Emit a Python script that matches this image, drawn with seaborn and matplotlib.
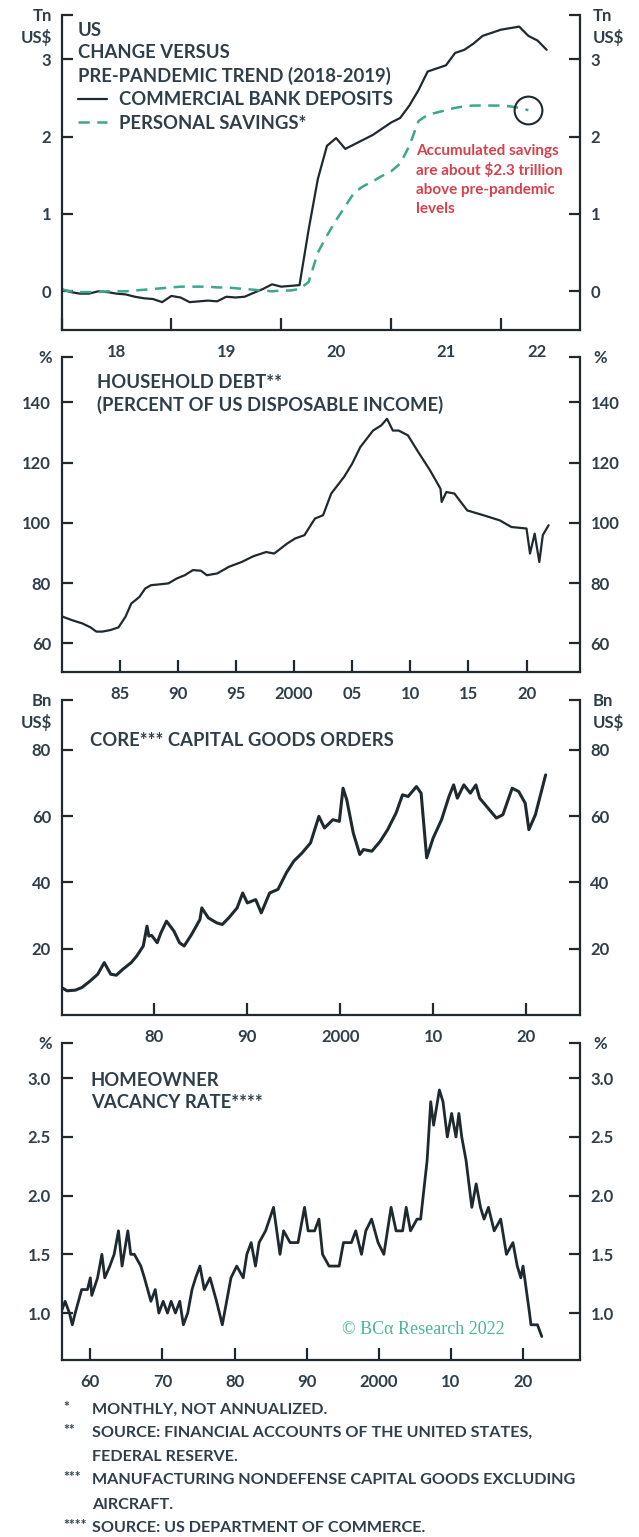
import numpy as np
import pandas as pd
import matplotlib
matplotlib.use("Agg")
import matplotlib.pyplot as plt
import seaborn as sns
from matplotlib.lines import Line2D

# ---------------- data ----------------
# Panel 1: monthly, Jan 2018 onward (Tn US$, change vs pre-pandemic trend)
deposits = [0.03, -0.01, -0.03, -0.03, 0.00, -0.01, -0.03, -0.04, -0.07, -0.09, -0.10, -0.14,
            -0.06, -0.08, -0.14, -0.13, -0.12, -0.13, -0.07, -0.08, -0.07, -0.02, 0.03, 0.09,
            0.06, 0.07, 0.08, 0.80, 1.45, 1.88, 1.98, 1.84, 1.90, 1.96, 2.02, 2.10,
            2.18, 2.24, 2.40, 2.60, 2.84, 2.88, 2.92, 3.08, 3.12, 3.20, 3.30, 3.34,
            3.38, 3.40, 3.42, 3.30, 3.24, 3.12]
savings = [0.02, 0.00, -0.01, -0.01, -0.01, 0.00, 0.00, 0.00, 0.01, 0.02, 0.03, 0.04,
           0.05, 0.06, 0.06, 0.06, 0.06, 0.05, 0.05, 0.04, 0.03, 0.02, 0.01, 0.00,
           0.01, 0.01, 0.03, 0.12, 0.50, 0.72, 0.92, 1.10, 1.28, 1.36, 1.42, 1.49,
           1.55, 1.65, 1.88, 2.20, 2.28, 2.31, 2.34, 2.37, 2.39, 2.40, 2.40, 2.40,
           2.40, 2.39, 2.37, 2.34]
p1_year_ticks = [2018, 2019, 2020, 2021, 2022]
p1_labels = ["18", "19", "20", "21", "22"]

# Panel 2: household debt (% of disposable income)
hh_x = [1980.0, 1980.9, 1981.8, 1982.5, 1983.0, 1983.5, 1984.2, 1984.9, 1985.5, 1986.0,
        1986.7, 1987.2, 1987.7, 1988.5, 1989.2, 1989.9, 1990.6, 1991.3, 1992.0, 1992.5,
        1993.4, 1994.4, 1995.5, 1996.5, 1997.6, 1998.3, 1999.4, 2000.1, 2000.9, 2001.8,
        2002.5, 2003.2, 2004.3, 2005.0, 2005.7, 2006.8, 2007.5, 2008.0, 2008.5, 2009.0,
        2009.8, 2010.6, 2011.7, 2012.6, 2012.7, 2013.1, 2013.8, 2014.9, 2016.3, 2017.7,
        2018.7, 2020.0, 2020.3, 2020.7, 2021.1, 2021.4, 2021.9]
hh_y = [69.0, 67.7, 66.6, 65.3, 63.9, 63.9, 64.4, 65.3, 68.8, 73.2,
        75.4, 78.2, 79.3, 79.6, 79.9, 81.5, 82.6, 84.3, 84.1, 82.6,
        83.2, 85.4, 87.0, 88.9, 90.3, 89.8, 93.1, 94.8, 95.9, 101.4,
        102.5, 109.7, 115.2, 119.6, 125.1, 130.6, 132.3, 134.5, 130.6, 130.6,
        129.0, 124.0, 117.4, 111.3, 106.9, 110.2, 109.7, 104.1, 102.5, 100.8,
        98.6, 98.1, 89.8, 96.4, 87.0, 95.9, 99.2]
p2_ticks = [1985, 1990, 1995, 2000, 2005, 2010, 2015, 2020]
p2_labels = ["85", "90", "95", "2000", "05", "10", "15", "20"]

# Panel 3: core capital goods orders (Bn US$)
cap_x = [1970.0, 1970.6, 1971.5, 1972.2, 1973.1, 1973.9, 1974.6, 1975.3, 1975.9, 1976.6,
         1977.5, 1978.1, 1978.8, 1979.2, 1979.4, 1979.7, 1980.3, 1980.7, 1981.3, 1982.1,
         1982.7, 1983.2, 1984.0, 1984.9, 1985.1, 1985.8, 1986.7, 1987.3, 1988.0, 1988.9,
         1989.5, 1990.0, 1990.9, 1991.5, 1992.4, 1993.3, 1994.2, 1995.0, 1995.9, 1996.8,
         1997.7, 1998.3, 1999.2, 1999.9, 2000.3, 2000.7, 2001.4, 2002.1, 2002.5, 2003.4,
         2004.3, 2005.1, 2006.0, 2006.7, 2007.3, 2008.2, 2008.7, 2009.3, 2010.0, 2010.9,
         2011.7, 2012.2, 2012.6, 2013.3, 2014.0, 2014.6, 2015.0, 2015.9, 2016.8, 2017.5,
         2018.5, 2019.2, 2019.9, 2020.3, 2021.0, 2022.1]
cap_y = [8.3, 7.3, 7.5, 8.3, 10.3, 12.3, 15.8, 12.3, 12.0, 13.8,
         15.8, 17.8, 20.8, 26.8, 23.8, 24.0, 21.8, 24.8, 28.3, 25.3,
         21.8, 20.8, 24.3, 28.8, 32.3, 29.3, 27.8, 27.3, 29.3, 32.3,
         36.8, 33.8, 34.8, 30.8, 36.8, 37.9, 42.9, 46.4, 48.9, 51.9,
         59.9, 56.4, 58.9, 58.4, 68.4, 64.9, 54.9, 48.4, 49.9, 49.4,
         52.4, 55.9, 60.9, 66.4, 65.9, 68.9, 66.9, 47.4, 53.4, 58.9,
         65.9, 69.4, 65.4, 69.4, 66.9, 69.4, 65.4, 62.4, 59.4, 60.4,
         68.4, 67.4, 63.9, 55.9, 60.4, 72.4]
p3_ticks = [1980, 1990, 2000, 2010, 2020]
p3_labels = ["80", "90", "2000", "10", "20"]

# Panel 4: homeowner vacancy rate (%)
hv_x = [1955.9, 1956.5, 1957.1, 1957.5, 1957.9, 1958.8, 1959.6, 1960.0, 1960.2, 1961.0,
        1961.6, 1962.0, 1962.7, 1963.3, 1963.9, 1964.4, 1965.2, 1965.6, 1966.1, 1967.0,
        1967.5, 1968.4, 1969.0, 1969.5, 1970.1, 1970.7, 1971.2, 1971.8, 1972.4, 1972.9,
        1973.5, 1974.1, 1974.6, 1975.2, 1975.8, 1976.6, 1977.5, 1978.3, 1978.9, 1979.5,
        1980.3, 1981.2, 1981.7, 1982.3, 1982.9, 1983.4, 1984.3, 1985.4, 1986.3, 1986.8,
        1987.7, 1988.8, 1989.7, 1990.2, 1991.1, 1991.7, 1992.2, 1993.1, 1994.5, 1995.1,
        1996.2, 1996.8, 1997.6, 1998.2, 1999.0, 1999.9, 2000.7, 2001.7, 2002.4, 2003.3,
        2003.8, 2004.4, 2005.3, 2005.8, 2006.7, 2007.2, 2007.6, 2008.4, 2008.9, 2009.5,
        2010.1, 2010.7, 2011.1, 2011.5, 2012.1, 2012.9, 2013.5, 2014.1, 2014.6, 2015.2,
        2016.0, 2016.9, 2017.7, 2018.6, 2019.2, 2019.7, 2020.0, 2020.9, 2021.1, 2022.0,
        2022.6]
hv_y = [1.0, 1.1, 1.0, 0.9, 1.0, 1.2, 1.2, 1.3, 1.15, 1.3,
        1.5, 1.3, 1.4, 1.5, 1.7, 1.4, 1.7, 1.5, 1.5, 1.4,
        1.3, 1.1, 1.2, 1.0, 1.1, 1.0, 1.1, 1.0, 1.1, 0.9,
        1.0, 1.2, 1.3, 1.4, 1.2, 1.3, 1.1, 0.9, 1.1, 1.3,
        1.4, 1.3, 1.5, 1.6, 1.4, 1.6, 1.7, 1.9, 1.5, 1.7,
        1.6, 1.6, 1.9, 1.7, 1.7, 1.8, 1.5, 1.4, 1.4, 1.6,
        1.6, 1.7, 1.5, 1.7, 1.8, 1.6, 1.5, 1.9, 1.7, 1.7,
        1.9, 1.7, 1.8, 1.8, 2.3, 2.8, 2.6, 2.9, 2.8, 2.5,
        2.7, 2.5, 2.7, 2.5, 2.3, 1.9, 2.1, 1.9, 1.8, 1.9,
        1.7, 1.8, 1.5, 1.6, 1.4, 1.3, 1.4, 1.0, 0.9, 0.9,
        0.8]
p4_ticks = [1960, 1970, 1980, 1990, 2000, 2010, 2020]
p4_labels = ["60", "70", "80", "90", "2000", "10", "20"]

footnotes = [("*", ["MONTHLY, NOT ANNUALIZED."]),
             ("**", ["SOURCE: FINANCIAL ACCOUNTS OF THE UNITED STATES,", "FEDERAL RESERVE."]),
             ("***", ["MANUFACTURING NONDEFENSE CAPITAL GOODS EXCLUDING", "AIRCRAFT."]),
             ("****", ["SOURCE: US DEPARTMENT OF COMMERCE."])]

# ---------------- style ----------------
sns.set_theme(style="ticks")
FONT = ['Lato', 'DejaVu Sans']
plt.rcParams['font.family'] = FONT
TXT = "#2f3f4a"
LINE = "#1e2a30"
TEAL = "#3aa88e"
RED = "#d8404c"
TS = 12      # tick label size
TT = 13.3    # panel title size
FN = 11.6    # footnote size

W, H = 639, 1537
fig = plt.figure(figsize=(W / 100, H / 100), dpi=100)
fig.patch.set_facecolor("white")


def add_ax(l, t, r, b):
    return fig.add_axes([l / W, 1 - b / H, (r - l) / W, (b - t) / H])


def ftxt(x, y, s, **kw):
    kw.setdefault("color", TXT)
    kw.setdefault("fontweight", "bold")
    kw.setdefault("fontsize", TT)
    kw.setdefault("va", "center")
    return fig.text(x / W, 1 - y / H, s, **kw)


def style(ax, ylim, yticks, yfmt, unit, xlim):
    ax.set_xlim(*xlim)
    ax.set_ylim(*ylim)
    ax.set_facecolor("white")
    for s in ["left", "right", "bottom"]:
        ax.spines[s].set_visible(True)
        ax.spines[s].set_linewidth(1.6)
        ax.spines[s].set_color(LINE)
    ax.spines["top"].set_visible(False)
    ticks = list(yticks) + [ylim[1]]
    ax.set_yticks(ticks)
    ax.set_yticklabels([yfmt(v) for v in yticks] + [""])
    ax.tick_params(axis="y", which="major", direction="in", length=8, width=1.6,
                   color=LINE, left=True, right=True, labelleft=True, labelright=True,
                   labelsize=TS, labelcolor=TXT, pad=7.5)
    for lab in ax.get_yticklabels():
        lab.set_fontweight("bold")
    ax.tick_params(axis="x", which="major", direction="in", length=9, width=1.6,
                   color=LINE, bottom=True, top=False, labelsize=TS, labelcolor=TXT, pad=10)
    ax.set_xlabel("")
    ax.set_ylabel("")
    pos = ax.get_position()
    ytop = (1 - pos.y1) * H
    for i, u in enumerate(unit.split("\n")):
        ftxt(52, ytop + 1 + i * 22, u, ha="right", fontsize=TS)
        ftxt(593, ytop + 1 + i * 22, u, ha="left", fontsize=TS)


# ---------------- Panel 1 ----------------
ax1 = add_ax(61.5, 15, 580, 330)
t1 = 2018 + np.arange(len(deposits)) / 12
t1s = 2018 + np.arange(len(savings)) / 12
df1 = pd.DataFrame({"t": t1, "v": deposits})
df1s = pd.DataFrame({"t": t1s, "v": savings})
sns.lineplot(data=df1, x="t", y="v", ax=ax1, color=LINE, lw=1.6)
sns.lineplot(data=df1s, x="t", y="v", ax=ax1, color=TEAL, lw=1.8)
ax1.lines[-1].set_dashes((4.5, 3))
style(ax1, (-0.5, 3.57), [0, 1, 2, 3], lambda v: f"{v:d}", "Tn\nUS$", (2018, 2022.72))
ax1.set_xticks(p1_year_ticks)
ax1.set_xticklabels([""] * len(p1_year_ticks))
ax1.set_xticks([y + 0.5 for y in p1_year_ticks[:-1]] + [2022.33], minor=True)
ax1.set_xticklabels(p1_labels, minor=True, fontweight="bold")
ax1.tick_params(axis="x", which="minor", length=0, labelsize=TS, labelcolor=TXT, pad=10)
# circle on last savings point
ax1.plot([t1s[-1]], [savings[-1]], marker="o", ms=20, mfc="none", mec=LINE, mew=1.5)
ax1.text(2021.23, 1.90, "Accumulated savings\nare about $2.3 trillion\nabove pre-pandemic\nlevels",
         color=RED, fontsize=11, fontweight="bold", va="top", ha="left", linespacing=1.42)
# titles & legend
ftxt(78, 30, "US")
ftxt(78, 53, "CHANGE VERSUS")
ftxt(78, 76, "PRE-PANDEMIC TREND (2018-2019)")
handles = [Line2D([], [], color=LINE, lw=1.6),
           Line2D([], [], color=TEAL, lw=1.8, dashes=(4.5, 3))]
leg = ax1.legend(handles, ["COMMERCIAL BANK DEPOSITS", "PERSONAL SAVINGS*"],
                 loc="center left", bbox_to_anchor=(78 / W, 1 - 111.5 / H),
                 bbox_transform=fig.transFigure, frameon=False, borderpad=0,
                 borderaxespad=0, handlelength=1.55, handletextpad=0.65, labelspacing=0.35,
                 prop={"family": FONT, "weight": "bold", "size": TT})
for t in leg.get_texts():
    t.set_color(TXT)

# ---------------- Panel 2 ----------------
ax2 = add_ax(61.5, 357, 580, 672)
sns.lineplot(x=hh_x, y=hh_y, ax=ax2, color=LINE, lw=1.6)
style(ax2, (50.5, 155), [60, 80, 100, 120, 140], lambda v: f"{v:d}", "%", (1980, 2024.6))
ax2.set_xticks(p2_ticks)
ax2.set_xticklabels(p2_labels, fontweight="bold")
ftxt(97, 382, "HOUSEHOLD DEBT**")
ftxt(97, 405, "(PERCENT OF US DISPOSABLE INCOME)")

# ---------------- Panel 3 ----------------
ax3 = add_ax(61.5, 700, 580, 1015)
sns.lineplot(x=cap_x, y=cap_y, ax=ax3, color=LINE, lw=2.2)
style(ax3, (0, 95), [20, 40, 60, 80], lambda v: f"{v:d}", "Bn\nUS$", (1970, 2025.8))
ax3.set_xticks(p3_ticks)
ax3.set_xticklabels(p3_labels, fontweight="bold")
ftxt(90, 740, "CORE*** CAPITAL GOODS ORDERS")

# ---------------- Panel 4 ----------------
ax4 = add_ax(61.5, 1043, 580, 1360)
sns.lineplot(x=hv_x, y=hv_y, ax=ax4, color=LINE, lw=2.0)
style(ax4, (0.6, 3.3), [1.0, 1.5, 2.0, 2.5, 3.0], lambda v: f"{v:.1f}", "%", (1956, 2027.9))
ax4.set_xticks(p4_ticks)
ax4.set_xticklabels(p4_labels, fontweight="bold")
ftxt(91, 1080, "HOMEOWNER")
ftxt(91, 1102, "VACANCY RATE****")
ax4.text(0.697, 0.095, "\u00a9 BC\u03b1 Research 2022", transform=ax4.transAxes,
         family=["Liberation Serif", "DejaVu Serif"], color="#4db597", fontsize=13,
         ha="center", va="center")

# ---------------- footnotes ----------------
ys = [[1410], [1433, 1457], [1480, 1505], [1528]]
for (mark, lines), yl in zip(footnotes, ys):
    ftxt(63, yl[0] - 3, mark, fontsize=FN - 1.5)
    for txt, y in zip(lines, yl):
        ftxt(92, y, txt, fontsize=FN)

fig.savefig("out.png", dpi=100, facecolor="white")
